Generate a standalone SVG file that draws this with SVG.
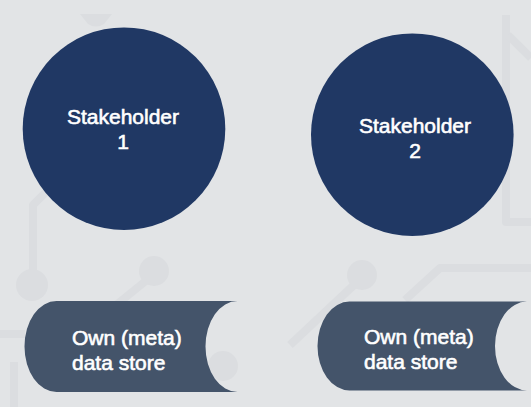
<svg xmlns="http://www.w3.org/2000/svg" width="531" height="407" viewBox="0 0 531 407">
  <style>
    .bg { fill: #e2e4e6; }
    .trace { fill: none; stroke: #dbdde0; stroke-width: 8; stroke-linejoin: round; }
    .pad { fill: #dbdde0; }
    .actor { fill: #203864; }
    .store { fill: #44546a; }
    .label { font-family: "Liberation Sans", Arial, sans-serif; font-size: 21px; fill: #ffffff; stroke: #ffffff; stroke-width: 0.6px; }
    .mid { text-anchor: middle; }
  </style>
  <rect class="bg" x="0" y="0" width="531" height="407"/>
  <g id="background">
    <path class="trace" d="M33,277 V205 L47,191"/>
    <circle class="pad" cx="32" cy="285" r="16"/>
    <path class="trace" d="M0,334 H25"/>
    <path class="trace" d="M14,362 V407"/>
    <circle class="pad" cx="154" cy="271" r="15"/>
    <path class="trace" d="M147,280 L116,305"/>
    <circle class="pad" cx="223" cy="366" r="15"/>
    <circle class="pad" cx="362" cy="275" r="15"/>
    <path class="trace" d="M355,284 L290,345"/>
    <path class="trace" d="M531,268 H440 L405,300"/>
    <path class="trace" d="M531,222 H506 V15"/>
    <path class="trace" d="M508,35 L531,58"/>
    <path class="pad" d="M80,14 H112 L104,24 Q96,29 88,24 Z"/>
  </g>
  <g id="stakeholder-1">
    <circle class="actor" cx="124" cy="128.7" r="101.3"/>
    <text class="label mid" x="123" y="124">Stakeholder</text>
    <text class="label mid" x="123" y="149">1</text>
  </g>
  <g id="stakeholder-2">
    <circle class="actor" cx="412.3" cy="134.7" r="101.3"/>
    <text class="label mid" x="415" y="133">Stakeholder</text>
    <text class="label mid" x="415" y="158">2</text>
  </g>
  <g id="store-1">
    <path class="store" d="M56.5,301 H237.5 A32,45.5 0 0 0 237.5,392 H56.5 A32,45.5 0 0 1 56.5,301 Z"/>
    <text class="label" x="72" y="345">Own (meta)</text>
    <text class="label" x="72" y="370">data store</text>
  </g>
  <g id="store-2">
    <path class="store" d="M349.5,301.5 H527 A32,44.5 0 0 0 527,390.5 H349.5 A32,44.5 0 0 1 349.5,301.5 Z"/>
    <text class="label" x="364" y="344">Own (meta)</text>
    <text class="label" x="364" y="369">data store</text>
  </g>
  <g id="connectors"></g>
</svg>
